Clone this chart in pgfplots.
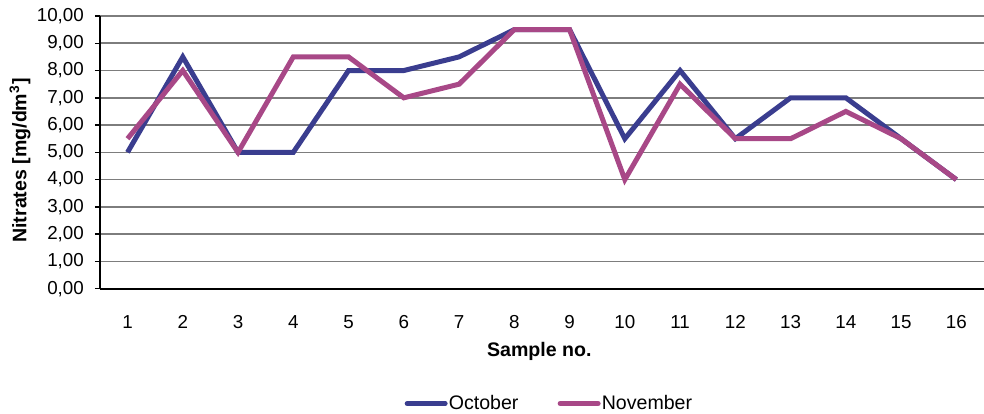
\documentclass[border=0pt]{standalone}
\usepackage{pgfplots}
\pgfplotsset{compat=1.18}
\usepackage{fontspec}
\setmainfont{Liberation Sans}
\definecolor{oct}{RGB}{58,61,143}
\definecolor{nov}{RGB}{168,72,135}
\definecolor{gridc}{RGB}{125,125,125}

\begin{document}
\begin{tikzpicture}
\begin{axis}[
    scale only axis,
    width=442.5pt, height=136.5pt,
    xmin=0.5, xmax=16.5,
    ymin=0, ymax=10,
    axis x line*=bottom, axis y line*=left,
    axis line style={black, line width=0.8pt},
    xtick={1,...,16},
    xtick style={draw=none},
    minor xtick={0.5,1.5,...,16.5},
    minor tick length=3pt,
    ytick={0,1,...,10},
    major tick length=2.5pt,
    tick align=outside,
    tick style={black, line width=0.7pt},
    ymajorgrids=true,
    grid style={gridc, line width=0.8pt},
    yticklabel={\pgfmathprintnumber[fixed, fixed zerofill, precision=2, use comma]{\tick}},
    /pgf/number format/assume math mode=true,
    tick label style={font=\fontsize{9.4}{11}\selectfont},
    xticklabel style={yshift=-7.5pt},
    yticklabel style={xshift=-2pt},
    label style={font=\fontsize{9.8}{11}\selectfont\bfseries},
    xlabel={Sample no.},
    xlabel style={at={(axis description cs:0.497,-0.231)}, anchor=center},
    ylabel={Nitrates [mg/dm\textsuperscript{3}]},
    ylabel style={at={(axis description cs:-0.0904,0.47)}, anchor=center, rotate=0},
    legend columns=2,
    legend style={at={(axis description cs:0.508,-0.421)}, anchor=center, draw=none,
        font=\fontsize{9.8}{11}\selectfont, inner sep=0pt,
        nodes={inner xsep=0.6pt},
        /tikz/every even column/.append style={column sep=19pt}},
    legend image code/.code={\draw[#1, line width=2.5pt, line cap=round] (0pt,0pt) -- (19pt,0pt);},
]
\addplot[oct, line width=2.5pt, line join=miter] coordinates {
 (1,5) (2,8.5) (3,5) (4,5) (5,8) (6,8) (7,8.5) (8,9.5)
 (9,9.5) (10,5.5) (11,8) (12,5.5) (13,7) (14,7) (15,5.5) (16,4)
};
\addlegendentry{October}
\addplot[nov, line width=2.5pt, line join=miter] coordinates {
 (1,5.5) (2,8) (3,5) (4,8.5) (5,8.5) (6,7) (7,7.5) (8,9.5)
 (9,9.5) (10,4) (11,7.5) (12,5.5) (13,5.5) (14,6.5) (15,5.5) (16,4)
};
\addlegendentry{November}
\coordinate (ll) at (rel axis cs:0,0);
\coordinate (ur) at (rel axis cs:1,1);
\end{axis}
\pgfresetboundingbox
\path ([shift={(-50pt,-62.5pt)}]ll) rectangle ([shift={(0pt,8pt)}]ur);
\end{tikzpicture}
\end{document}
